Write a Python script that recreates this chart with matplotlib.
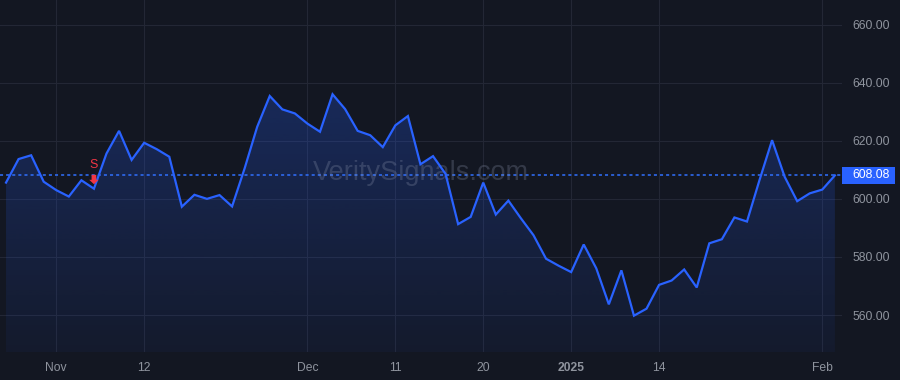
import matplotlib
matplotlib.use("Agg")
import matplotlib.pyplot as plt
import matplotlib.transforms as mtransforms
from matplotlib.patches import Polygon, Rectangle
import numpy as np
import pandas as pd

# Data: daily closes, trading days 28 Oct 2024 - 4 Feb 2025
holidays = ['2024-11-28', '2024-12-25', '2025-01-01', '2025-01-09', '2025-01-20']
dates = [d for d in pd.bdate_range('2024-10-28', '2025-02-04') if d.strftime('%Y-%m-%d') not in holidays]

closes = [605.6, 613.7, 615.0, 605.9, 603.0, 600.8, 606.4, 603.5, 615.6, 623.4,
          613.4, 619.3, 617.1, 614.5, 597.3, 601.4, 600.0, 601.3, 597.4, 610.5,
          624.8, 635.4, 630.8, 629.4, 625.9, 623.1, 636.0, 630.9, 623.4, 621.9,
          617.8, 625.3, 628.5, 611.9, 614.7, 608.6, 591.3, 593.8, 605.6, 594.6,
          599.4, 593.3, 587.5, 579.4, 577.0, 574.8, 584.3, 576.1, 563.7, 575.4,
          559.8, 562.2, 570.4, 571.9, 575.7, 569.5, 584.7, 586.1, 593.6, 592.2,
          606.5, 620.2, 607.6, 599.2, 601.9, 603.2, 608.08]

tick_dates = ['2024-11-01', '2024-11-12', '2024-12-02', '2024-12-11',
              '2024-12-20', '2025-01-02', '2025-01-14', '2025-02-03']
tick_labels = ['Nov', '12', 'Dec', '11', '20', '2025', '14', 'Feb']
price_ticks = [560, 580, 600, 620, 640, 660]

signal_date = '2024-11-06'
signal_label = 'S'
last_price = closes[-1]

# Styling
bg = '#131722'
grid_c = '#232735'
line_c = '#2962ff'
text_c = '#8f949e'
red = '#f23645'
plt.rcParams['font.family'] = ['Liberation Sans', 'DejaVu Sans']

date_str = [d.strftime('%Y-%m-%d') for d in dates]
x = np.arange(len(closes))
y = np.array(closes)
tick_pos = [date_str.index(d) for d in tick_dates]
sig_i = date_str.index(signal_date)

fig = plt.figure(figsize=(9, 3.8), dpi=100, facecolor=bg)
ax = fig.add_axes([0, 0.0737, 0.9356, 0.926])
ax.set_facecolor(bg)

ylo, yhi = 547.3, 668.4
xlo, xhi = -0.48, 66.57

# gradient fill under the line
grad = np.zeros((256, 1, 4))
r, g, b = matplotlib.colors.to_rgb(line_c)
grad[:, 0, 0], grad[:, 0, 1], grad[:, 0, 2] = r, g, b
grad[:, 0, 3] = np.linspace(0.05, 0.25, 256)
im = ax.imshow(grad, extent=[xlo, xhi, ylo, y.max()], origin='lower',
               aspect='auto', zorder=1, interpolation='bilinear')
verts = [(x[0], ylo)] + list(zip(x, y)) + [(x[-1], ylo)]
poly = Polygon(verts, closed=True, facecolor='none', edgecolor='none')
ax.add_patch(poly)
im.set_clip_path(poly)

ax.plot(x, y, color=line_c, lw=1.6, zorder=3, solid_joinstyle='miter')

# last price dotted line
ax.axhline(last_price, color='#3070ff', lw=1.1, ls=(0, (2, 2)), zorder=2)

ax.set_xlim(xlo, xhi)
ax.set_ylim(ylo, yhi)

ax.set_xticks(tick_pos)
ax.set_xticklabels(tick_labels)
for lbl in ax.get_xticklabels():
    if lbl.get_text() == '2025':
        lbl.set_fontweight('bold')
ax.yaxis.tick_right()
ax.set_yticks(price_ticks)
ax.set_yticklabels([f'{v:.2f}' for v in price_ticks])
ax.tick_params(axis='x', length=0, pad=7, labelsize=8.7, colors=text_c)
ax.tick_params(axis='y', length=0, pad=7.2, labelsize=8.7, colors=text_c)
ax.grid(True, color=grid_c, lw=0.8)
ax.set_axisbelow(True)
for s in ax.spines.values():
    s.set_visible(False)

# price tag on the right scale
blend = mtransforms.blended_transform_factory(ax.transAxes, ax.transData)
ax.add_patch(Rectangle((1.0, last_price - 2.92), 0.063, 5.85, transform=blend,
                       facecolor=line_c, edgecolor='none', clip_on=False, zorder=5))
ax.text(0, 0, f'{last_price:.2f}', color='white', fontsize=8.7, va='center', ha='left',
        zorder=6, clip_on=False,
        transform=fig.dpi_scale_trans + mtransforms.ScaledTranslation(1.0, last_price, blend)
        + mtransforms.ScaledTranslation(7.2 / 72, 0, fig.dpi_scale_trans))

# watermark
ax.text(0.5, 608.8, 'VeritySignals.com', transform=blend, ha='center', va='center',
        fontsize=19.5, color='#8a93ab', alpha=0.28, zorder=2)

# sell signal: arrow shape in points above the bar
arrow_pts = np.array([(-1.7, 10.0), (1.7, 10.0), (1.7, 6.4), (3.4, 6.4), (0, 3.2),
                      (-3.4, 6.4), (-1.7, 6.4)]) / 72.0
at_point = fig.dpi_scale_trans + mtransforms.ScaledTranslation(sig_i, closes[sig_i], ax.transData)
ax.add_patch(Polygon(arrow_pts, closed=True, transform=at_point, facecolor=red,
                     edgecolor='none', zorder=6, clip_on=False))
ax.annotate(signal_label, xy=(sig_i, closes[sig_i]), xytext=(0, 17.2), textcoords='offset points',
            ha='center', va='center', color=red, fontsize=9, zorder=6)

fig.savefig('out.png', dpi=100, facecolor=bg)
